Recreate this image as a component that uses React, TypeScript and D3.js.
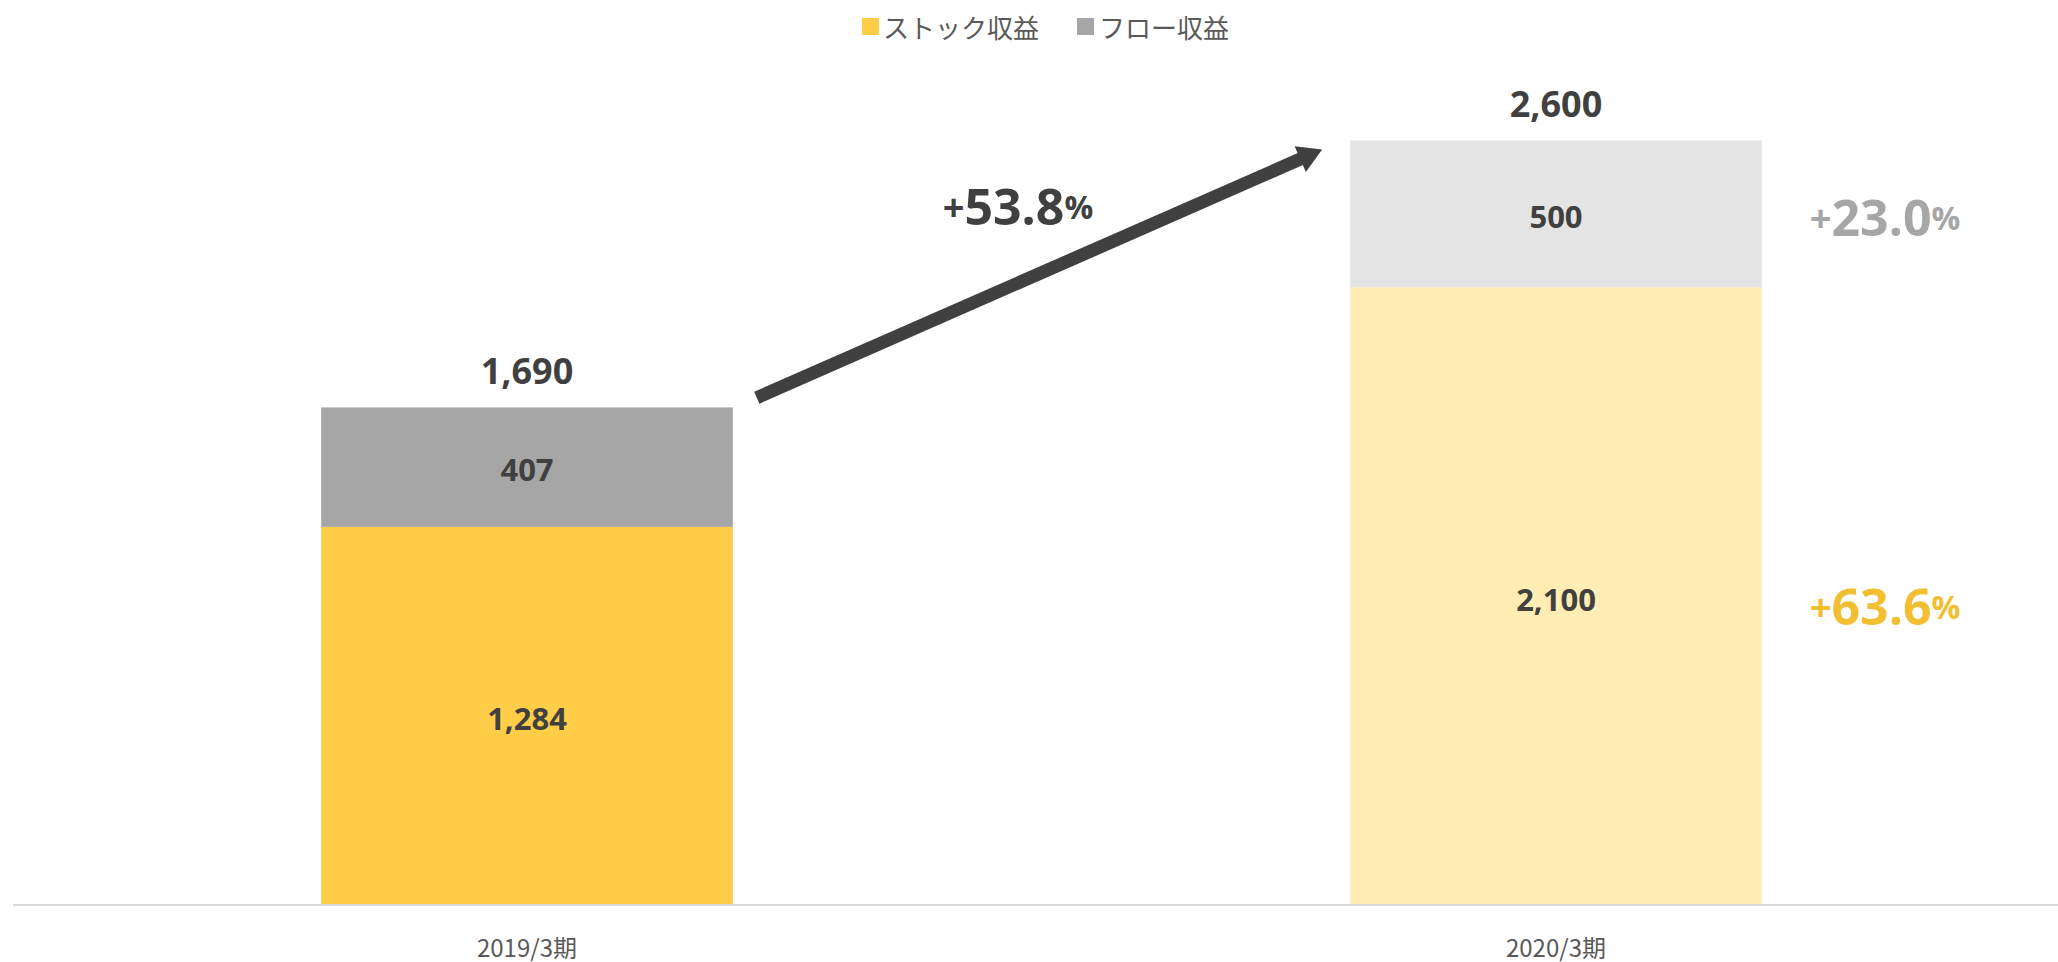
import React from "react";
import * as d3 from "d3";

const categories = ["2019/3期", "2020/3期"];
const stockValues = [1284, 2100];
const flowValues = [407, 500];
const totalValues = [1690, 2600];
const seriesNames = ["ストック収益", "フロー収益"];
const growthTotal = { sign: "+", num: "53.8", pct: "%" };
const growthFlow = { sign: "+", num: "23.0", pct: "%" };
const growthStock = { sign: "+", num: "63.6", pct: "%" };

const W = 2058;
const H = 962;
const stockColors = ["#FFCD48", "#FFEDB3"];
const flowColors = ["#A6A6A6", "#E4E4E4"];
const legendColors = ["#FFCD48", "#A6A6A6"];
const valueFont = "'Open Sans', 'Noto Sans', sans-serif";
const cjkFont = "'Noto Sans CJK JP', 'Noto Sans', sans-serif";

export default function App() {
  const x = d3.scaleBand<string>().domain(categories).range([12.5, 2070.5]).paddingInner(0.6).paddingOuter(0.3);
  const y = d3.scaleLinear().domain([0, 3000]).range([904, 23]);
  const fmt = d3.format(",");
  const bw = x.bandwidth();

  const x0 = x(categories[0])!;
  const x1 = x(categories[1])!;
  const start: [number, number] = [x0 + bw + 24, y(totalValues[0]) - 10];
  const tip: [number, number] = [x1 - 28, y(totalValues[1]) + 9];
  const dx = tip[0] - start[0];
  const dy = tip[1] - start[1];
  const len = Math.hypot(dx, dy);
  const ux = dx / len, uy = dy / len;
  const px = -uy, py = ux;
  const headL = 24, headW = 14;
  const base: [number, number] = [tip[0] - ux * headL, tip[1] - uy * headL];
  const head = [
    tip,
    [base[0] + px * headW, base[1] + py * headW],
    [base[0] - px * headW, base[1] - py * headW],
  ];

  const growthLabel = (g: { sign: string; num: string; pct: string }, yy: number, color: string) => (
    <text x={x1 + bw + 48} y={yy} fill={color} fontFamily={valueFont} fontWeight={700} dominantBaseline="central">
      <tspan fontSize={38}>{g.sign}</tspan>
      <tspan fontSize={50}>{g.num}</tspan>
      <tspan fontSize={32}>{g.pct}</tspan>
    </text>
  );

  return (
    <svg width={W} height={H} style={{ position: "absolute", left: 0, top: 0, background: "#fff" }}>
      {/* legend */}
      <g fontFamily={cjkFont} fontSize={26} fill="#595959">
        <rect x={862} y={18} width={17} height={17} fill={legendColors[0]} />
        <text x={883} y={26} dominantBaseline="central">{seriesNames[0]}</text>
        <rect x={1077} y={18} width={17} height={17} fill={legendColors[1]} />
        <text x={1099} y={26} dominantBaseline="central">{seriesNames[1]}</text>
      </g>

      {/* bars */}
      {categories.map((c, i) => {
        const bx = x(c)!;
        return (
          <g key={c}>
            <rect x={bx} y={y(stockValues[i])} width={bw} height={y(0) - y(stockValues[i])} fill={stockColors[i]} />
            <rect
              x={bx}
              y={y(stockValues[i] + flowValues[i])}
              width={bw}
              height={y(stockValues[i]) - y(stockValues[i] + flowValues[i])}
              fill={flowColors[i]}
            />
            <text
              x={bx + bw / 2}
              y={(y(0) + y(stockValues[i])) / 2 + 3}
              textAnchor="middle"
              dominantBaseline="central"
              fontFamily={valueFont}
              fontWeight={700}
              fontSize={31}
              fill="#404040"
            >
              {fmt(stockValues[i])}
            </text>
            <text
              x={bx + bw / 2}
              y={(y(stockValues[i]) + y(stockValues[i] + flowValues[i])) / 2 + 2}
              textAnchor="middle"
              dominantBaseline="central"
              fontFamily={valueFont}
              fontWeight={700}
              fontSize={31}
              fill="#404040"
            >
              {fmt(flowValues[i])}
            </text>
            <text
              x={bx + bw / 2}
              y={y(stockValues[i] + flowValues[i]) - 37}
              textAnchor="middle"
              dominantBaseline="central"
              fontFamily={valueFont}
              fontWeight={700}
              fontSize={36}
              fill="#404040"
            >
              {fmt(totalValues[i])}
            </text>
            <text
              x={bx + bw / 2}
              y={946}
              textAnchor="middle"
              dominantBaseline="central"
              fontFamily={cjkFont}
              fontSize={24}
              fill="#595959"
            >
              {c}
            </text>
          </g>
        );
      })}

      {/* axis line */}
      <line x1={13} x2={W} y1={y(0) + 1} y2={y(0) + 1} stroke="#D9D9D9" strokeWidth={2} />

      {/* arrow */}
      <line x1={start[0]} y1={start[1]} x2={base[0] + ux * 2} y2={base[1] + uy * 2} stroke="#404040" strokeWidth={13} />
      <polygon points={head.map((p) => p.join(",")).join(" ")} fill="#404040" />
      <text x={1018} y={206} textAnchor="middle" fill="#404040" fontFamily={valueFont} fontWeight={700} dominantBaseline="central">
        <tspan fontSize={38}>{growthTotal.sign}</tspan>
        <tspan fontSize={50}>{growthTotal.num}</tspan>
        <tspan fontSize={32}>{growthTotal.pct}</tspan>
      </text>

      {growthLabel(growthFlow, (y(stockValues[1]) + y(stockValues[1] + flowValues[1])) / 2 + 3, "#A6A6A6")}
      {growthLabel(growthStock, (y(0) + y(stockValues[1])) / 2 + 10, "#F2BE32")}
    </svg>
  );
}
